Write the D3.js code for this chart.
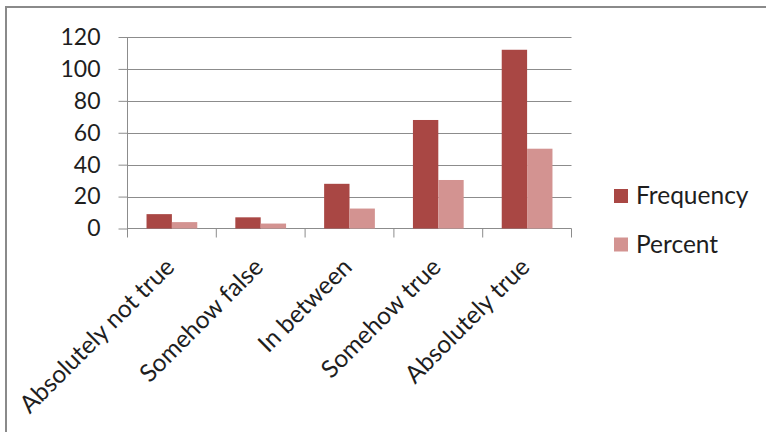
<!DOCTYPE html>
<html>
<head>
<meta charset="utf-8">
<script src="https://cdn.jsdelivr.net/npm/d3@7"></script>
<style>
  html, body { margin: 0; padding: 0; background: #fff; }
  svg { display: block; }
  text { font-family: Lato, "Open Sans", sans-serif; fill: #1e1e1e; }
</style>
</head>
<body>
<svg id="chart" width="766" height="432"></svg>
<script>
const categories = ["Absolutely not true", "Somehow false", "In between", "Somehow true", "Absolutely true"];
const seriesNames = ["Frequency", "Percent"];
const frequency = [9, 7, 28, 68, 112];
const percent = [4.0, 3.1, 12.5, 30.4, 50.0];
const yTicks = [0, 20, 40, 60, 80, 100, 120];
const seriesColors = ["#A94744", "#D39391"];

const svg = d3.select("#chart");
const W = 766, H = 432;
const plot = { left: 127.5, right: 571.5, top: 37, bottom: 228.5 };

// chart frame (top and left edges visible)
svg.append("line").attr("x1", 5).attr("x2", W).attr("y1", 7).attr("y2", 7)
  .attr("stroke", "#8a8a8a").attr("stroke-width", 2);
svg.append("line").attr("x1", 6).attr("x2", 6).attr("y1", 6).attr("y2", H)
  .attr("stroke", "#8a8a8a").attr("stroke-width", 2);

const x = d3.scaleBand().domain(categories).range([plot.left, plot.right]).padding(0);
const bw = x.bandwidth();
const barW = bw / 3.5;
const xs = d3.scaleBand().domain(seriesNames).range([0.75 * barW, 2.75 * barW]).padding(0);
const y = d3.scaleLinear().domain([0, 120]).range([plot.bottom, plot.top]);

// gridlines
svg.append("g").selectAll("line").data(yTicks.filter(t => t > 0)).join("line")
  .attr("x1", plot.left).attr("x2", plot.right)
  .attr("y1", d => Math.round(y(d)) + 0.5).attr("y2", d => Math.round(y(d)) + 0.5)
  .attr("stroke", "#8c8c8c").attr("stroke-width", 1);

// y axis
const yAxis = d3.axisLeft(y).tickValues(yTicks).tickSize(9).tickPadding(18);
const gy = svg.append("g").attr("transform", `translate(${plot.left},0)`).call(yAxis);
gy.select(".domain").remove();
gy.selectAll(".tick line").attr("stroke", "#8c8c8c");
gy.selectAll(".tick text").attr("font-size", 23).attr("font-family", "Lato").attr("fill", "#1e1e1e");
gy.append("line").attr("x1", 0).attr("x2", 0).attr("y1", plot.top).attr("y2", plot.bottom + 9)
  .attr("stroke", "#8c8c8c");

// x axis baseline and ticks at category boundaries
svg.append("line").attr("x1", plot.left).attr("x2", plot.right)
  .attr("y1", plot.bottom).attr("y2", plot.bottom).attr("stroke", "#8c8c8c");
const bounds = categories.map(c => x(c)).concat([x(categories[categories.length - 1]) + bw]);
svg.append("g").selectAll("line").data(bounds.slice(1)).join("line")
  .attr("x1", d => d).attr("x2", d => d)
  .attr("y1", plot.bottom).attr("y2", plot.bottom + 9).attr("stroke", "#8c8c8c");

// bars
const data = categories.map((c, i) => ({ cat: c, values: [frequency[i], percent[i]] }));
const groups = svg.append("g").selectAll("g").data(data).join("g")
  .attr("transform", d => `translate(${x(d.cat)},0)`);
groups.selectAll("rect").data(d => d.values.map((v, j) => ({ s: seriesNames[j], v, j })))
  .join("rect")
  .attr("x", d => xs(d.s)).attr("width", xs.bandwidth())
  .attr("y", d => y(d.v)).attr("height", d => plot.bottom - y(d.v))
  .attr("fill", d => seriesColors[d.j]);

// category labels rotated
svg.append("g").selectAll("text").data(categories).join("text")
  .attr("transform", d => `translate(${x(d) + bw / 2 + 4},${plot.bottom + 40}) rotate(-45)`)
  .attr("text-anchor", "end")
  .attr("font-size", 24.5)
  .text(d => d);

// legend
const legend = svg.append("g").selectAll("g").data(seriesNames).join("g")
  .attr("transform", (d, i) => `translate(614,${189 + i * 48.5})`);
legend.append("rect").attr("width", 14).attr("height", 14).attr("fill", (d, i) => seriesColors[i]);
legend.append("text").attr("x", 22).attr("y", 15).attr("font-size", 24.5).text(d => d);
</script>
</body>
</html>
